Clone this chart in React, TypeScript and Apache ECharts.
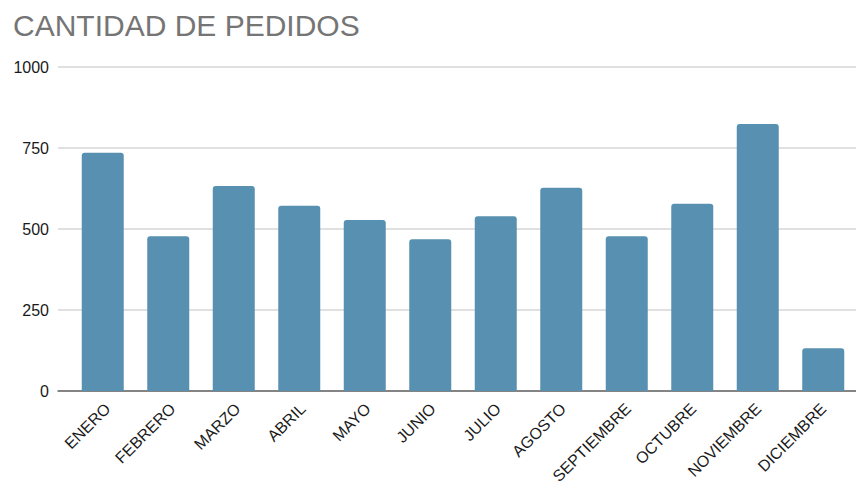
import React, { useEffect, useRef } from "react";
import * as echarts from "echarts";

const categories = [
  "ENERO", "FEBRERO", "MARZO", "ABRIL", "MAYO", "JUNIO",
  "JULIO", "AGOSTO", "SEPTIEMBRE", "OCTUBRE", "NOVIEMBRE", "DICIEMBRE",
];
const pedidos = [735, 478, 633, 572, 528, 468, 539, 627, 478, 578, 824, 132];
const yTicks = { min: 0, max: 1000, interval: 250 };
const titleText = "CANTIDAD DE PEDIDOS";

const FONT = "'Liberation Sans', Arial, sans-serif";

export default function App() {
  const ref = useRef<HTMLDivElement>(null);
  useEffect(() => {
    if (!ref.current) return;
    const chart = echarts.init(ref.current, undefined, { renderer: "svg" });
    chart.setOption({
      animation: false,
      backgroundColor: "#ffffff",
      title: {
        text: titleText,
        left: 8,
        top: 5,
        textStyle: { color: "#757575", fontSize: 30, fontWeight: "normal", fontFamily: FONT },
      },
      grid: [
        { left: 58, right: 0, top: 67, bottom: 96, containLabel: false },
        { left: 70, width: 787, top: 67, bottom: 96, containLabel: false },
        { left: 75, width: 787, top: 67, bottom: 96, containLabel: false },
      ],
      xAxis: [
        {
          type: "category",
          gridIndex: 0,
          data: categories,
          axisLine: { show: true, lineStyle: { color: "#666666", width: 1.5 } },
          axisTick: { show: false },
          axisLabel: { show: false },
          splitLine: { show: false },
        },
        {
          type: "category",
          gridIndex: 1,
          data: categories,
          axisLine: { show: false },
          axisTick: { show: false },
          axisLabel: { show: false },
        },
        {
          type: "category",
          gridIndex: 2,
          data: categories,
          axisLine: { show: false },
          axisTick: { show: false },
          axisLabel: {
            show: true,
            rotate: 45,
            interval: 0,
            margin: 15,
            color: "#1a1a1a",
            fontSize: 16,
            fontFamily: FONT,
          },
        },
      ],
      yAxis: [
        {
          type: "value",
          gridIndex: 0,
          min: yTicks.min,
          max: yTicks.max,
          interval: yTicks.interval,
          axisLine: { show: false },
          axisTick: { show: false },
          axisLabel: {
            color: "#1a1a1a",
            fontSize: 16,
            fontFamily: FONT,
            margin: 9,
            formatter: (v: number) => String(v),
          },
          splitLine: { show: true, lineStyle: { color: "#d6d6d6", width: 1.5 } },
        },
        {
          type: "value",
          gridIndex: 1,
          min: yTicks.min,
          max: yTicks.max,
          interval: yTicks.interval,
          show: false,
          splitLine: { show: false },
        },
        {
          type: "value",
          gridIndex: 2,
          min: yTicks.min,
          max: yTicks.max,
          interval: yTicks.interval,
          show: false,
          splitLine: { show: false },
        },
      ],
      series: [
        {
          type: "bar",
          xAxisIndex: 1,
          yAxisIndex: 1,
          data: pedidos,
          barWidth: 42,
          itemStyle: { color: "#5790b0", borderRadius: [3, 3, 0, 0] },
          z: 3,
        },
      ],
    });
    return () => chart.dispose();
  }, []);
  return (
    <div
      ref={ref}
      style={{ position: "absolute", left: 0, top: 0, width: 856, height: 487 }}
    />
  );
}
